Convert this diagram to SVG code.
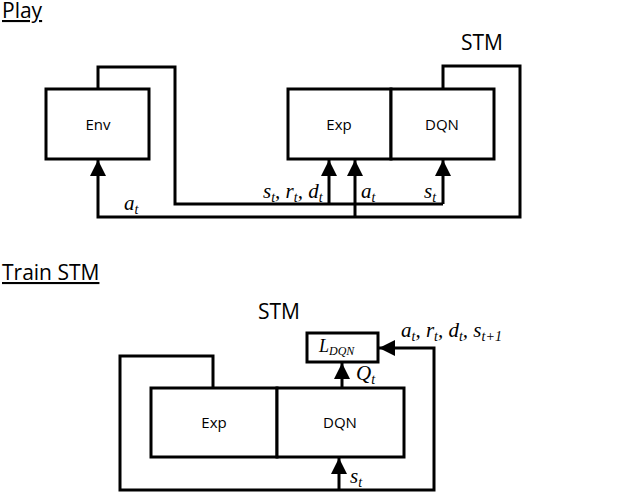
<svg xmlns="http://www.w3.org/2000/svg" width="640" height="494" viewBox="0 0 640 494">
<style>
.b{fill:#fff;stroke:#000;stroke-width:3}
.l{fill:none;stroke:#000;stroke-width:3}
.t{font-family:"Open Sans","DejaVu Sans",sans-serif;font-size:15px;text-anchor:middle}
.h{font-family:"Open Sans","DejaVu Sans",sans-serif;font-size:21px}
.m{font-family:"Liberation Serif",serif;font-style:italic;font-size:21px}
.s{font-size:14px}
</style>
<defs>
<marker id="ar" viewBox="0 0 10 10" refX="10" refY="5" markerWidth="16" markerHeight="16" markerUnits="userSpaceOnUse" orient="auto"><path d="M0,0L10,5L0,10z"/></marker></defs>
<rect width="640" height="494" fill="#fff"/>
<text class="h" x="2" y="18" text-decoration="underline">Play</text>
<text class="h" x="482" y="50" text-anchor="middle">STM</text>
<text class="h" x="2" y="280" text-decoration="underline">Train STM</text>
<text class="h" x="279" y="319" text-anchor="middle">STM</text>
<g id="connectors">
<path class="l" d="M98,89V67H175V204H443"/>
<path class="l" d="M443,89V66H520V217H98V160" marker-end="url(#ar)"/>
<path class="l" d="M329,204V160" marker-end="url(#ar)"/>
<path class="l" d="M355,217V160" marker-end="url(#ar)"/>
<path class="l" d="M443,204V160" marker-end="url(#ar)"/>
<path class="l" d="M213,388V356H120V490H434V348H379" marker-end="url(#ar)"/>
<path class="l" d="M339,490V458" marker-end="url(#ar)"/>
<path class="l" d="M342,388V363" marker-end="url(#ar)"/>
</g>
<g id="env"><rect class="b" x="46" y="89" width="103" height="70"/><text class="t" x="98" y="130">Env</text></g>
<g id="exp"><rect class="b" x="288" y="89" width="103" height="70"/><text class="t" x="339" y="130">Exp</text></g>
<g id="dqn"><rect class="b" x="391" y="89" width="103" height="70"/><text class="t" x="442" y="130">DQN</text></g>
<g id="exp2"><rect class="b" x="151" y="388" width="126" height="69"/><text class="t" x="214" y="428">Exp</text></g>
<g id="dqn2"><rect class="b" x="277" y="388" width="127" height="69"/><text class="t" x="340" y="428">DQN</text></g>
<g id="ldqn"><rect class="b" x="307" y="333" width="71" height="29"/><text class="m" x="319" y="352" style="font-size:18px">L<tspan style="font-size:12px" dy="3">DQN</tspan></text></g>
<g>
<text class="m" x="124" y="210">a<tspan class="s" dy="4">t</tspan></text>
<text class="m" x="263" y="198">s<tspan class="s" dy="4">t</tspan><tspan dy="-4">, r</tspan><tspan class="s" dy="4">t</tspan><tspan dy="-4">, d</tspan><tspan class="s" dy="4">t</tspan></text>
<text class="m" x="361" y="198">a<tspan class="s" dy="4">t</tspan></text>
<text class="m" x="424" y="198">s<tspan class="s" dy="4">t</tspan></text>
<text class="m" x="401" y="337">a<tspan class="s" dy="4">t</tspan><tspan dy="-4">, r</tspan><tspan class="s" dy="4">t</tspan><tspan dy="-4">, d</tspan><tspan class="s" dy="4">t</tspan><tspan dy="-4">, s</tspan><tspan class="s" dy="4">t+1</tspan></text>
<text class="m" x="356" y="380">Q<tspan class="s" dy="4">t</tspan></text>
<text class="m" x="350" y="483">s<tspan class="s" dy="4">t</tspan></text>
</g>
</svg>
